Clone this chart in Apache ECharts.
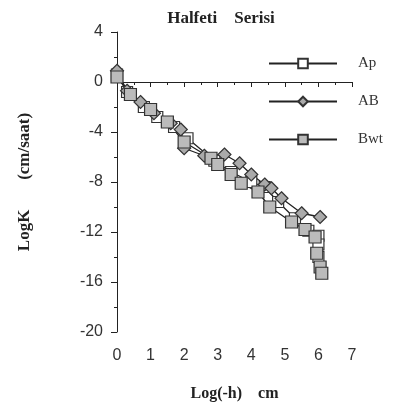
<!DOCTYPE html>
<html>
<head>
<meta charset="utf-8">
<script src="https://cdn.jsdelivr.net/npm/echarts@6/dist/echarts.min.js"></script>
<style>
  html, body { margin: 0; padding: 0; background: #fff; }
  #chart { width: 397px; height: 416px; }
</style>
</head>
<body>
<div id="chart"></div>
<script>
// Log(-h) cm , LogK (cm/saat)
var apData = [[0, 0.6], [0.3, -0.8], [0.8, -2.0], [1.2, -2.8], [1.7, -3.6], [2.1, -4.5], [2.9, -6.3], [3.4, -7.2], [4.0, -8.0], [4.4, -8.4], [4.8, -9.6], [5.3, -10.9], [5.7, -11.9], [6.0, -12.3], [6.0, -13.0], [6.0, -14.0]]
var abData = [[0, 0.9], [0.3, -0.7], [0.7, -1.6], [1.1, -2.5], [1.6, -3.3], [1.9, -3.8], [2.0, -5.3], [2.6, -5.9], [3.2, -5.8], [3.65, -6.5], [4.0, -7.4], [4.4, -8.2], [4.6, -8.5], [4.9, -9.3], [5.5, -10.5], [6.05, -10.8]]
var bwtData = [[0, 0.4], [0.4, -1.0], [1.0, -2.2], [1.5, -3.2], [2.0, -4.8], [2.8, -6.1], [3.0, -6.6], [3.4, -7.4], [3.7, -8.1], [4.2, -8.8], [4.55, -10.0], [5.2, -11.2], [5.6, -11.8], [5.9, -12.4], [5.95, -13.7], [6.05, -14.8], [6.1, -15.3]]
var seriesNames = ['Ap', 'AB', 'Bwt']
var xTicks = [0, 1, 2, 3, 4, 5, 6, 7]
var yTicks = [-20, -16, -12, -8, -4, 0, 4]

var serif = 'Liberation Serif'
var sans = 'Liberation Sans'

function lineSeries(name, data, symbol, fill, size) {
    return {
        name: name,
        type: 'line',
        data: data,
        symbol: symbol,
        symbolSize: size,
        lineStyle: { color: '#222', width: 1.3 },
        itemStyle: { color: fill, borderColor: '#333', borderWidth: 1.2 },
        emphasis: { disabled: true }
    }
}

var chart = echarts.init(document.getElementById('chart'))
chart.setOption({
    animation: false,
    title: {
        text: 'Halfeti    Serisi',
        left: 216,
        top: 5,
        textAlign: 'center',
        textStyle: { fontFamily: serif, fontSize: 17, fontWeight: 'bold', color: '#222' }
    },
    legend: {
        data: seriesNames,
        orient: 'vertical',
        left: 263,
        top: 51,
        itemWidth: 68,
        itemHeight: 12,
        itemGap: 23,
        textStyle: { fontFamily: serif, fontSize: 15, color: '#333', padding: [0, 0, 0, 16] }
    },
    grid: { left: 117, right: 45, top: 32, bottom: 84 },
    xAxis: {
        type: 'value',
        min: xTicks[0],
        max: xTicks[xTicks.length - 1],
        interval: 1,
        name: 'Log(-h)    cm',
        nameLocation: 'middle',
        nameGap: 54,
        nameTextStyle: { fontFamily: serif, fontSize: 16, fontWeight: 'bold', color: '#222' },
        axisLine: { lineStyle: { color: '#222' } },
        axisTick: { length: 5, lineStyle: { color: '#222' } },
        minorTick: { show: true, splitNumber: 2, length: 3, lineStyle: { color: '#222' } },
        axisLabel: { fontFamily: sans, fontSize: 16, color: '#333', margin: 16 },
        splitLine: { show: false }
    },
    yAxis: {
        type: 'value',
        min: yTicks[0],
        max: yTicks[yTicks.length - 1],
        interval: 4,
        name: 'LogK       (cm/saat)',
        nameLocation: 'middle',
        nameGap: 84,
        nameTextStyle: { fontFamily: serif, fontSize: 17, fontWeight: 'bold', color: '#222' },
        axisLine: { onZero: false, lineStyle: { color: '#222' } },
        axisTick: { length: 6, lineStyle: { color: '#222' } },
        minorTick: { show: true, splitNumber: 2, length: 3, lineStyle: { color: '#222' } },
        axisLabel: { fontFamily: sans, fontSize: 16, color: '#333', margin: 14 },
        splitLine: { show: false }
    },
    series: [
        lineSeries('Ap', apData, 'rect', '#fff', 11),
        lineSeries('AB', abData, 'diamond', '#aaa', 13),
        lineSeries('Bwt', bwtData, 'rect', '#bbb', 12)
    ]
})
</script>
</body>
</html>
